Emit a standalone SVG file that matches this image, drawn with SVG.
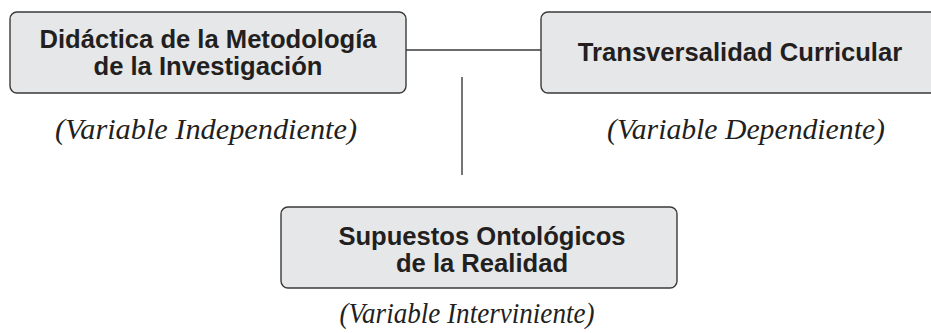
<svg xmlns="http://www.w3.org/2000/svg" width="931" height="333" viewBox="0 0 931 333">
<style>
.box{fill:#e6e7e8;stroke:#3a3a3a;stroke-width:1.4}
.t{font-family:"Liberation Sans",Arial,sans-serif;font-weight:bold;font-size:25.6px;fill:#231f20;text-anchor:middle}
.v{font-family:"Liberation Serif","Times New Roman",serif;font-style:italic;font-size:29px;fill:#231f20;text-anchor:middle}
.c{stroke:#3a3a3a;stroke-width:1.4;fill:none}
</style>
<rect width="931" height="333" fill="#ffffff"/>
<g id="connectors">
<line class="c" x1="406" y1="50" x2="541" y2="50"/>
<line class="c" x1="462" y1="77" x2="462" y2="175"/>
</g>
<g id="node-independiente">
<rect class="box" x="10" y="12" width="396" height="81" rx="7"/>
<text class="t" x="208" y="48">Didáctica de la Metodología</text>
<text class="t" x="208" y="75">de la Investigación</text>
<text class="v" x="206" y="139" textLength="302" lengthAdjust="spacingAndGlyphs">(Variable Independiente)</text>
</g>
<g id="node-dependiente">
<rect class="box" x="541" y="12" width="396" height="81" rx="7"/>
<text class="t" x="740" y="61">Transversalidad Curricular</text>
<text class="v" x="746" y="139" textLength="278" lengthAdjust="spacingAndGlyphs">(Variable Dependiente)</text>
</g>
<g id="node-interviniente">
<rect class="box" x="281" y="207" width="396" height="81" rx="7"/>
<text class="t" x="482" y="245">Supuestos Ontológicos</text>
<text class="t" x="482" y="272">de la Realidad</text>
<text class="v" x="467" y="323" textLength="255" lengthAdjust="spacingAndGlyphs">(Variable Interviniente)</text>
</g>
</svg>
